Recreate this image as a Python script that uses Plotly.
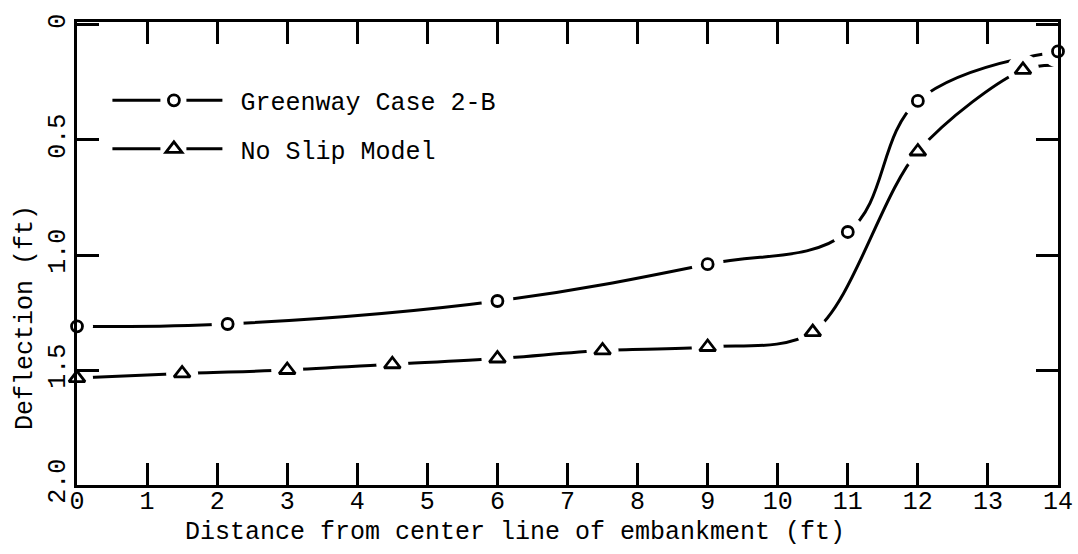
import plotly.graph_objects as go

# Greenway Case 2-B results
greenway_x = [0, 2.15, 6, 9, 11, 12, 14]
greenway_y = [1.31, 1.30, 1.20, 1.04, 0.90, 0.33, 0.115]

# No Slip Model results
noslip_x = [0, 1.5, 3, 4.5, 6, 7.5, 9, 10.5, 12, 13.5]
noslip_y = [1.535, 1.515, 1.50, 1.475, 1.45, 1.415, 1.40, 1.335, 0.55, 0.195]

# where the No Slip curve meets the right border
noslip_end_x = [14]
noslip_end_y = [0.175]

y_tickvals = [0, 0.5, 1.0, 1.5, 2.0]
y_ticktext = ["0", "0.5", "1.0", "1.5", "2.0"]
x_tickvals = list(range(0, 15))

X_TITLE = "Distance from center line of embankment (ft)"
Y_TITLE = "Deflection (ft)"

FONT = "Liberation Mono"
INK = "black"
W, H = 1078, 554
ML, MR, MT, MB = 77, 20, 22, 69
PW, PH = W - ML - MR, H - MT - MB

fig = go.Figure()

# smooth curves
fig.add_trace(go.Scatter(
    x=greenway_x, y=greenway_y, mode="lines",
    line=dict(color=INK, width=3, shape="spline", smoothing=1.1),
    showlegend=False, hoverinfo="skip"))
fig.add_trace(go.Scatter(
    x=noslip_x + noslip_end_x, y=noslip_y + noslip_end_y, mode="lines",
    line=dict(color=INK, width=3, shape="spline", smoothing=0.9),
    showlegend=False, hoverinfo="skip"))

# white gaps around the symbols
for xs, ys in ((greenway_x, greenway_y), (noslip_x, noslip_y)):
    fig.add_trace(go.Scatter(
        x=xs, y=ys, mode="markers",
        marker=dict(symbol="circle", size=32, color="white",
                    line=dict(width=0)),
        showlegend=False, hoverinfo="skip"))

# symbols
fig.add_trace(go.Scatter(
    x=greenway_x, y=greenway_y, mode="markers", name="Greenway Case 2-B",
    marker=dict(symbol="circle-open", size=11, color=INK, line=dict(width=2.8, color=INK)),
    showlegend=False, cliponaxis=False))
fig.add_trace(go.Scatter(
    x=noslip_x, y=noslip_y, mode="markers", name="No Slip Model",
    marker=dict(symbol="triangle-up-open", size=14, color=INK, line=dict(width=2.8, color=INK)),
    showlegend=False, cliponaxis=False))

# legend entries: line - symbol - line
legend_dash = "48px,26px,36px,200px"
fig.add_trace(go.Scatter(
    x=[None], y=[None], mode="lines+markers", name="Greenway Case 2-B",
    legendgroup="g1",
    line=dict(color=INK, width=3, dash=legend_dash),
    marker=dict(symbol="circle-open", size=11, color=INK, line=dict(width=2.8, color=INK))))
fig.add_trace(go.Scatter(
    x=[None], y=[None], mode="lines+markers", name="No Slip Model",
    legendgroup="g2",
    line=dict(color=INK, width=3, dash=legend_dash),
    marker=dict(symbol="triangle-up-open", size=14, color=INK, line=dict(width=2.8, color=INK))))

axis_common = dict(
    showline=True, linewidth=3, linecolor=INK, mirror="ticks",
    ticks="inside", ticklen=22, tickwidth=2.5, tickcolor=INK,
    showgrid=False, zeroline=False, automargin=False,
    tickfont=dict(family=FONT, size=25, color=INK),
)

fig.update_layout(
    width=W, height=H,
    margin=dict(l=ML, r=MR, t=MT, b=MB, autoexpand=False),
    paper_bgcolor="white", plot_bgcolor="white",
    font=dict(family=FONT, size=25, color=INK),
    xaxis=dict(range=[0, 14], tickvals=x_tickvals, ticklabelstandoff=-9,
               **axis_common),
    yaxis=dict(range=[2.0, -0.013], tickvals=y_tickvals, ticktext=y_ticktext,
               tickangle=-90, ticklabelstandoff=-1, **axis_common),
    legend=dict(
        x=0.031, y=0.88, xanchor="left", yanchor="top",
        bgcolor="rgba(0,0,0,0)", itemwidth=123,
        font=dict(family=FONT, size=25, color=INK),
        tracegroupgap=13, itemsizing="trace"),
    showlegend=True,
    annotations=[
        dict(text=X_TITLE, xref="paper", yref="paper",
             x=(515 - ML) / PW, y=-(532 - MT - PH) / PH,
             xanchor="center", yanchor="middle", showarrow=False,
             font=dict(family=FONT, size=25, color=INK)),
        dict(text=Y_TITLE, xref="paper", yref="paper",
             x=(25 - ML) / PW, y=1 - (318 - MT) / PH, textangle=-90,
             xanchor="center", yanchor="middle", showarrow=False,
             font=dict(family=FONT, size=25, color=INK)),
    ],
)

fig.write_html("out.html")
